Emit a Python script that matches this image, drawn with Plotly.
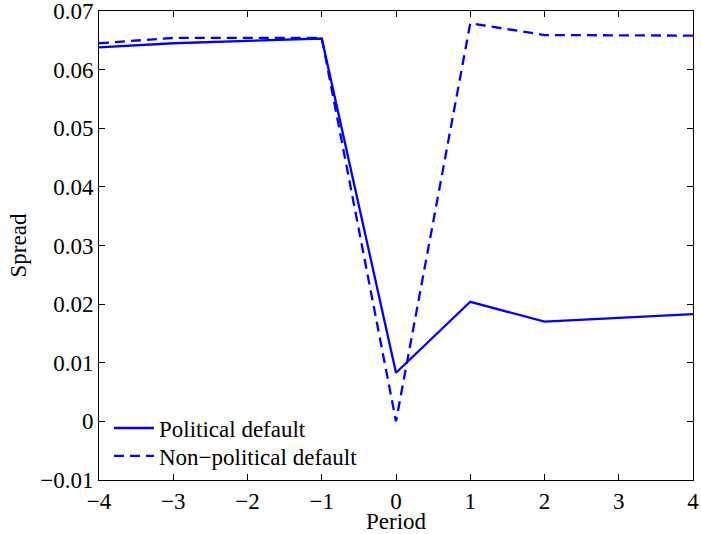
import plotly.graph_objects as go

periods = [-4, -3, -2, -1, 0, 1, 2, 3, 4]
political = [0.0638, 0.0645, 0.0649, 0.0653, 0.0083, 0.0204, 0.0170, 0.0177, 0.0183]
non_political = [0.0645, 0.0654, 0.0654, 0.0654, 0.0000, 0.0679, 0.0659, 0.0658, 0.0658]

x_ticks = [-4, -3, -2, -1, 0, 1, 2, 3, 4]
x_ticktext = ["\u22124", "\u22123", "\u22122", "\u22121", "0", "1", "2", "3", "4"]
y_ticks = [-0.01, 0, 0.01, 0.02, 0.03, 0.04, 0.05, 0.06, 0.07]
y_ticktext = ["\u22120.01", "0", "0.01", "0.02", "0.03", "0.04", "0.05", "0.06", "0.07"]

font = dict(family="Liberation Serif, Times New Roman, serif", size=23, color="black")

fig = go.Figure()
fig.add_trace(go.Scatter(x=periods, y=political, mode="lines", name="Political default",
                         line=dict(color="#0000ff", width=2.3), legend="legend"))
fig.add_trace(go.Scatter(x=periods, y=non_political, mode="lines", name="Non\u2212political default",
                         line=dict(color="#0000ff", width=2.3, dash="10px,6px"), legend="legend2"))

axis_common = dict(showgrid=False, zeroline=False, showline=True, linecolor="black", linewidth=1,
                   mirror="ticks", ticks="inside", ticklen=6, tickcolor="black", tickwidth=1,
                   tickfont=font, automargin=False, ticklabeloverflow="allow")

leg_common = dict(xanchor="left", yanchor="middle", bgcolor="rgba(0,0,0,0)", font=font,
                  itemwidth=40, borderwidth=0)

fig.update_layout(
    width=701, height=534,
    margin=dict(l=99, r=8, t=11, b=54),
    paper_bgcolor="white", plot_bgcolor="white",
    font=font,
    showlegend=True,
    legend=dict(x=0.0168, y=0.1108, **leg_common),
    legend2=dict(x=0.0168, y=0.0512, **leg_common),
    xaxis=dict(range=[-4, 4], tickvals=x_ticks, ticktext=x_ticktext,
               title=dict(text="Period", font=font, standoff=0), **axis_common),
    yaxis=dict(range=[-0.01, 0.07], tickvals=y_ticks, ticktext=y_ticktext,
               title=dict(text="Spread", font=font, standoff=7), **axis_common),
)

fig.write_html("out.html", config={"displayModeBar": False},
               post_script="document.body.style.margin='0';")
